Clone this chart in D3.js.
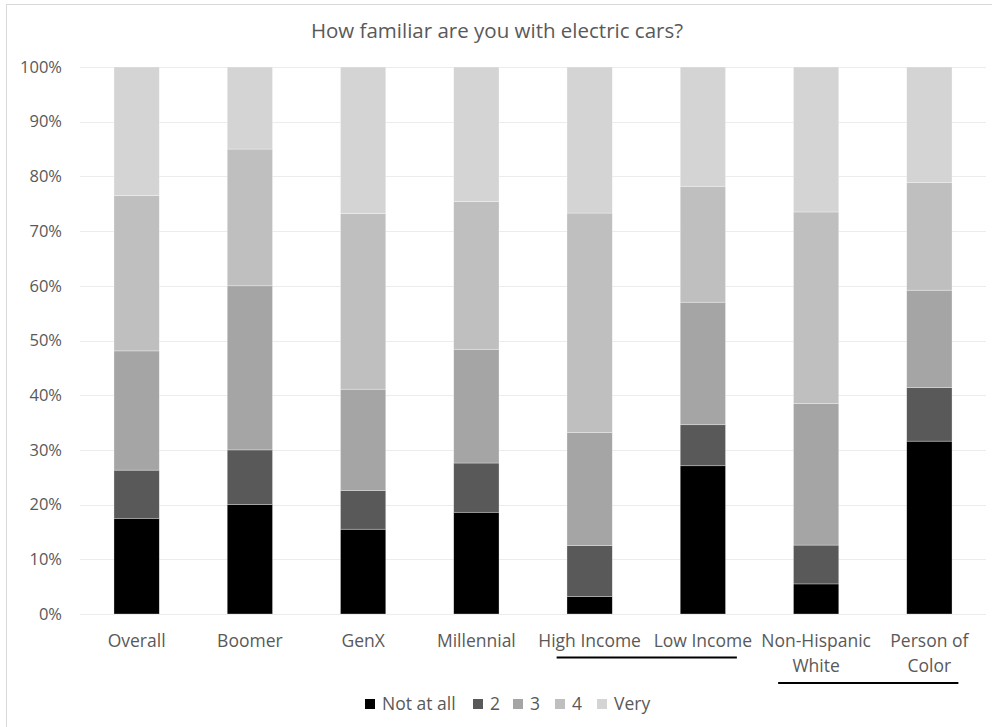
<!DOCTYPE html>
<html>
<head>
<meta charset="utf-8">
<script src="https://cdn.jsdelivr.net/npm/d3@7/dist/d3.min.js"></script>
<style>
  html, body { margin: 0; padding: 0; background: #fff; }
  svg { display: block; }
  text { font-family: "Open Sans", sans-serif; fill: #595959; }
</style>
</head>
<body>
<svg id="chart" width="992" height="727"></svg>
<script>
const title = "How familiar are you with electric cars?";
const categories = ["Overall", "Boomer", "GenX", "Millennial", "High Income", "Low Income", "Non-Hispanic White", "Person of Color"];
const categoryLines = [["Overall"], ["Boomer"], ["GenX"], ["Millennial"], ["High Income"], ["Low Income"], ["Non-Hispanic", "White"], ["Person of", "Color"]];
const seriesNames = ["Not at all", "2", "3", "4", "Very"];
const notAtAll = [17.5, 20.0, 15.5, 18.6, 3.2, 27.1, 5.5, 31.6];
const two      = [8.8, 10.0, 7.1, 9.0, 9.3, 7.5, 7.1, 9.8];
const three    = [21.8, 30.0, 18.5, 20.8, 20.7, 22.4, 25.9, 17.8];
const four     = [28.4, 25.0, 32.1, 27.0, 40.1, 21.2, 35.0, 19.7];
const very     = [23.5, 15.0, 26.8, 24.6, 26.7, 21.8, 26.5, 21.1];
const seriesColors = ["#000000", "#595959", "#a5a5a5", "#bfbfbf", "#d4d4d4"];
const yTicks = [0, 10, 20, 30, 40, 50, 60, 70, 80, 90, 100];
const underlineGroups = [["High Income", "Low Income"], ["Non-Hispanic White", "Person of Color"]];

const seriesValues = [notAtAll, two, three, four, very];
const table = categories.map((c, i) => {
  const row = { category: c };
  seriesNames.forEach((s, j) => row[s] = seriesValues[j][i]);
  return row;
});

const svg = d3.select("#chart");
const W = 992, H = 727;
const m = { left: 80, right: 6, top: 67, bottom: 113 };

// chart border
svg.append("rect").attr("x", 6.5).attr("y", 4.5).attr("width", 1000).attr("height", 800)
  .attr("fill", "none").attr("stroke", "#d9d9d9").attr("stroke-width", 1);

const x = d3.scaleBand().domain(categories).range([m.left, W - m.right]).paddingInner(0.6).paddingOuter(0.3);
const y = d3.scaleLinear().domain([0, 100]).range([H - m.bottom, m.top]);

// gridlines
svg.append("g").selectAll("line").data(yTicks).join("line")
  .attr("x1", m.left).attr("x2", W - m.right)
  .attr("y1", d => Math.round(y(d)) + 0.5).attr("y2", d => Math.round(y(d)) + 0.5)
  .attr("stroke", "#ececec").attr("stroke-width", 1);

// y axis labels
const yAxis = d3.axisLeft(y).tickValues(yTicks).tickFormat(d => d + "%").tickSize(0).tickPadding(0);
const yg = svg.append("g").attr("transform", `translate(${62},0)`).call(yAxis);
yg.select(".domain").remove();
yg.selectAll("text").style("font-size", "16.5px").style("font-family", "'Open Sans', sans-serif").attr("fill", "#595959");

// stacked bars
const stack = d3.stack().keys(seriesNames);
const stacked = stack(table);
const color = d3.scaleOrdinal().domain(seriesNames).range(seriesColors);

svg.append("g").selectAll("g").data(stacked).join("g")
  .attr("fill", d => color(d.key))
  .selectAll("rect").data(d => d).join("rect")
  .attr("x", d => x(d.data.category))
  .attr("width", x.bandwidth())
  .attr("y", d => y(d[1]))
  .attr("height", d => y(d[0]) - y(d[1]))
  .attr("stroke", "#ffffff").attr("stroke-opacity", 0.5).attr("stroke-width", 0.6);

// x labels
const xl = svg.append("g").selectAll("text").data(categories).join("text")
  .attr("x", d => x(d) + x.bandwidth() / 2)
  .attr("y", 647)
  .attr("text-anchor", "middle")
  .style("font-size", "17.5px");
xl.each(function(d, i) {
  const t = d3.select(this);
  categoryLines[i].forEach((ln, k) => {
    t.append("tspan").attr("x", x(d) + x.bandwidth() / 2).attr("dy", k === 0 ? 0 : 25).text(ln);
  });
});

// underlines
const cx = c => x(c) + x.bandwidth() / 2;
const underlineSpecs = [
  { g: underlineGroups[0], l: -33, r: 34, yy: 657.5 },
  { g: underlineGroups[1], l: -38, r: 29, yy: 683 }
];
svg.append("g").selectAll("line").data(underlineSpecs).join("line")
  .attr("x1", d => cx(d.g[0]) + d.l).attr("x2", d => cx(d.g[1]) + d.r)
  .attr("y1", d => d.yy).attr("y2", d => d.yy)
  .attr("stroke", "#000").attr("stroke-width", 2);

// title
svg.append("text").attr("x", 497).attr("y", 38).attr("text-anchor", "middle")
  .style("font-size", "20.5px").text(title);

// legend
const legendX = [365, 473, 513, 555, 597];
const lg = svg.append("g").selectAll("g").data(seriesNames).join("g")
  .attr("transform", (d, i) => `translate(${legendX[i]},699)`);
lg.append("rect").attr("width", 10).attr("height", 10).attr("fill", d => color(d));
lg.append("text").attr("x", 17).attr("y", 11).style("font-size", "17.5px").text(d => d);
</script>
</body>
</html>
